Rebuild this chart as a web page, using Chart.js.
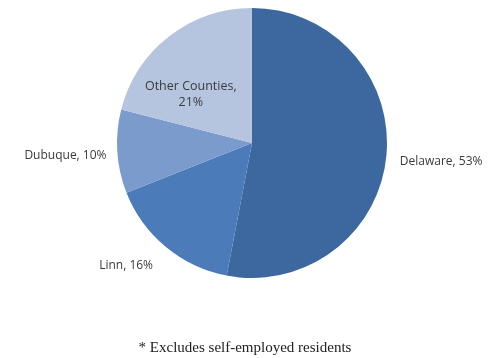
<!DOCTYPE html>
<html>
<head>
<meta charset="utf-8">
<script src="https://cdn.jsdelivr.net/npm/chart.js@4/dist/chart.umd.min.js"></script>
<style>
html,body{margin:0;padding:0;background:#fff;}
#wrap{width:501px;height:358px;position:relative;}
canvas{filter:blur(0.4px);}
</style>
</head>
<body>
<div id="wrap"><canvas id="c" width="501" height="358"></canvas></div>
<script>
const categories = ["Delaware", "Linn", "Dubuque", "Other Counties,"];
const shares = [53, 16, 10, 21];
const colors = ["#3d679f", "#4b7bb9", "#7b9bcc", "#b5c5e0"];
const footnote = "* Excludes self-employed residents";

// label placement per slice: fraction along arc, distance factor of radius, alignment, vertical nudge
const labelPlace = [
  {frac: 0.5, dist: 1.10, align: "left", dy: 5},
  {frac: 0.5, dist: 1.15, align: "right", dy: 3},
  {frac: 0.5, dist: 1.08, align: "right", dy: 3},
  {frac: 0.32, dist: 0.58, align: "center", dy: 0}
];

const labelPlugin = {
  id: "pieLabels",
  afterDatasetsDraw(chart) {
    const ctx = chart.ctx;
    const meta = chart.getDatasetMeta(0);
    ctx.save();
    ctx.fillStyle = "#3a3a3a";
    ctx.textBaseline = "middle";
    meta.data.forEach((arc, i) => {
      const p = arc.getProps(["x", "y", "startAngle", "endAngle", "outerRadius"], true);
      const pl = labelPlace[i];
      const a = p.startAngle + (p.endAngle - p.startAngle) * pl.frac;
      const d = p.outerRadius * pl.dist;
      const x = p.x + Math.cos(a) * d;
      const y = p.y + Math.sin(a) * d + pl.dy;
      ctx.textAlign = pl.align;
      if (i === 3) {
        ctx.font = "12.5px 'Open Sans', sans-serif";
        ctx.fillText(categories[i], x, y - 8);
        ctx.fillText(shares[i] + "%", x, y + 8);
      } else {
        ctx.font = "12px 'Open Sans', sans-serif";
        ctx.fillText(categories[i] + ", " + shares[i] + "%", x, y);
      }
    });
    ctx.font = "15px 'Liberation Serif', serif";
    ctx.fillStyle = "#222";
    ctx.textAlign = "center";
    ctx.fillText(footnote, 245, 348);
    ctx.restore();
  }
};

new Chart(document.getElementById("c"), {
  type: "pie",
  data: {
    labels: categories,
    datasets: [{
      data: shares,
      backgroundColor: colors,
      borderWidth: 0
    }]
  },
  options: {
    responsive: false,
    animation: false,
    layout: {padding: {top: 8, bottom: 80, left: 3, right: 0}},
    plugins: {legend: {display: false}, tooltip: {enabled: false}}
  },
  plugins: [labelPlugin]
});
</script>
</body>
</html>
